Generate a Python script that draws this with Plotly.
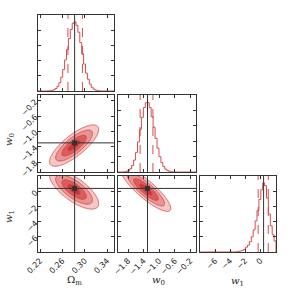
import numpy as np
import plotly.graph_objects as go

W = H = 291

# ---------------- data ----------------
truths = [0.282, -1.30, 0.45]
ranges = [[0.2164, 0.3525], [-2.06, -0.05], [-8.0, 2.1]]
q16 = [0.270, -1.49, -0.27]
q84 = [0.296, -1.16, 1.07]
ticks_om = [0.22, 0.26, 0.30, 0.34]
ticks_w0 = [-1.8, -1.4, -1.0, -0.6, -0.2]
ticks_w1 = [-6, -4, -2, 0]
tick_formats = [".2f", ".1f", "d"]

hist_om = [0, 0, 0, 0, 0, 0.2, 0.4, 0.8, 1.8, 3.6, 6.8, 12, 20, 31, 45, 60, 76, 89, 98, 100,
           95, 85, 70, 54, 39, 26, 17, 10, 5.3, 2.8, 1.3, 0.6, 0.2, 0, 0, 0, 0, 0, 0, 0]
hist_w0 = [0, 0, 0, 0.3, 0.9, 2.2, 4.7, 9.3, 17, 28, 43, 61, 78, 92, 99, 99, 92, 79, 64, 48,
           34, 22, 13.5, 7.8, 4.1, 2.0, 0.9, 0.4, 0, 0, 0, 0, 0, 0, 0, 0, 0, 0, 0, 0]
hist_w1 = [0, 0, 0, 0, 0, 0, 0, 0, 0, 0, 0, 0, 0, 0, 0, 0, 0, 0, 0, 0.4,
           1, 1.5, 2.5, 4, 7, 10, 15, 22, 32, 45, 60, 76, 90, 100, 96, 78, 55, 38, 25, 16]

# 2D posterior summaries: centre, contour sigma, correlation
om_w0_center = [0.281, -1.37]
om_w0_sigma = [0.022, 0.27]
om_w0_rho = 0.78
om_w1_center = [0.281, 0.3]
om_w1_sigma = [0.022, 1.3]
om_w1_rho = -0.72
w0_w1_center = [-1.34, 0.3]
w0_w1_sigma = [0.32, 1.45]
w0_w1_rho = -0.86
contour_levels = [2.0, 1.5, 1.0, 0.5]

# ---------------- styling ----------------
RED = "#d94c4c"
FILLS = ["#f5c8c8", "#e89494", "#db5c5c", "#cc3535"]
AX = "#333333"
cols_px = [(38, 114), (118, 196), (200, 276)]
rows_px = [(15, 91), (95, 172), (176, 252)]
ticks = [ticks_om, ticks_w0, ticks_w1]
hists = [hist_om, hist_w0, hist_w1]
pairs = {
    (2, 1): (om_w0_center, om_w0_sigma, om_w0_rho),
    (3, 1): (om_w1_center, om_w1_sigma, om_w1_rho),
    (3, 2): (w0_w1_center, w0_w1_sigma, w0_w1_rho),
}
panels = [(1, 1), (2, 1), (2, 2), (3, 1), (3, 2), (3, 3)]

fig = go.Figure()
layout = dict(width=W, height=H, autosize=False, margin=dict(l=0, r=0, t=0, b=0, pad=0),
              paper_bgcolor="white", plot_bgcolor="white", showlegend=False)
shapes = []
HMAX = 110

for n, (r, c) in enumerate(panels, start=1):
    xs = "" if n == 1 else str(n)
    xref, yref = "x" + xs, "y" + xs
    x0, x1 = cols_px[c - 1]
    y0, y1 = rows_px[r - 1]
    common = dict(showline=True, linecolor=AX, linewidth=1, mirror="ticks", ticks="inside",
                  ticklen=3, tickcolor=AX, showgrid=False, zeroline=False, automargin=False,
                  tickfont=dict(family="DejaVu Sans", size=8, color="#222"))
    layout["xaxis" + xs] = dict(domain=[x0 / W, x1 / W], anchor=yref, range=ranges[c - 1],
                                tickvals=ticks[c - 1], tickformat=tick_formats[c - 1],
                                showticklabels=(r == 3), tickangle=-45, **common)
    if r == c:
        layout["yaxis" + xs] = dict(domain=[1 - y1 / H, 1 - y0 / H], anchor=xref,
                                    range=[0, HMAX], tickvals=[22, 44, 66, 88],
                                    showticklabels=False, **common)
        lo, hi = ranges[c - 1]
        h = hists[c - 1]
        edges = np.linspace(lo, hi, len(h) + 1)
        xs_step = np.concatenate([[edges[0]], edges])
        ys_step = np.concatenate([[0], h, [0]])
        fig.add_trace(go.Scatter(x=xs_step, y=ys_step, mode="lines", line_shape="hv",
                                 line=dict(color=RED, width=1), xaxis=xref, yaxis=yref,
                                 hoverinfo="skip"))
        for q in (q16[c - 1], q84[c - 1]):
            shapes.append(dict(type="line", xref=xref, yref=yref + " domain", x0=q, x1=q,
                               y0=0, y1=1, line=dict(color=RED, width=1, dash="dash")))
        shapes.append(dict(type="line", xref=xref, yref=yref + " domain", x0=truths[c - 1],
                           x1=truths[c - 1], y0=0, y1=1, line=dict(color=AX, width=1)))
    else:
        layout["yaxis" + xs] = dict(domain=[1 - y1 / H, 1 - y0 / H], anchor=xref,
                                    range=ranges[r - 1], tickvals=ticks[r - 1],
                                    tickformat=tick_formats[r - 1],
                                    showticklabels=(c == 1), tickangle=-45, **common)
        center, sig, rho = pairs[(r, c)]
        xr, yr = ranges[c - 1], ranges[r - 1]
        gx = np.linspace(xr[0], xr[1], 220)
        gy = np.linspace(yr[0] - 0.1 * (yr[1] - yr[0]), yr[1] + 0.3 * (yr[1] - yr[0]), 260)
        X, Y = np.meshgrid(gx, gy)
        dx = (X - center[0]) / sig[0]
        dy = (Y - center[1]) / sig[1]
        R = np.sqrt((dx ** 2 - 2 * rho * dx * dy + dy ** 2) / (1 - rho ** 2))
        for lev, col in zip(contour_levels, FILLS):
            fig.add_trace(go.Contour(x=gx, y=gy, z=R, showscale=False, hoverinfo="skip",
                                     contours=dict(type="constraint", operation=">", value=lev),
                                     fillcolor=col, line=dict(color="#d04040", width=0.8),
                                     xaxis=xref, yaxis=yref))
        shapes.append(dict(type="line", xref=xref, yref=yref + " domain", x0=truths[c - 1],
                           x1=truths[c - 1], y0=0, y1=1, line=dict(color=AX, width=1)))
        shapes.append(dict(type="line", xref=xref + " domain", yref=yref, x0=0, x1=1,
                           y0=truths[r - 1], y1=truths[r - 1], line=dict(color=AX, width=1)))
        fig.add_trace(go.Scatter(x=[truths[c - 1]], y=[truths[r - 1]], mode="markers",
                                 marker=dict(symbol="square", size=5, color=AX),
                                 xaxis=xref, yaxis=yref, hoverinfo="skip"))

layout["shapes"] = shapes
tf = dict(family="DejaVu Serif", size=10, color="#222")
ann = dict(xref="paper", yref="paper", showarrow=False, font=tf,
           xanchor="center", yanchor="middle")
layout["annotations"] = [
    dict(text="Ω<sub>m</sub>", x=75 / W, y=1 - 280 / H, **ann),
    dict(text="<i>w</i><sub>0</sub>", x=158 / W, y=1 - 280 / H, **ann),
    dict(text="<i>w</i><sub>1</sub>", x=237 / W, y=1 - 281 / H, **ann),
    dict(text="<i>w</i><sub>0</sub>", x=9 / W, y=1 - 140 / H, textangle=-90, **ann),
    dict(text="<i>w</i><sub>1</sub>", x=9 / W, y=1 - 217 / H, textangle=-90, **ann),
]
fig.update_layout(**layout)
fig.write_html("out.html", config={"displayModeBar": False},
               post_script="document.body.style.margin='0';")
